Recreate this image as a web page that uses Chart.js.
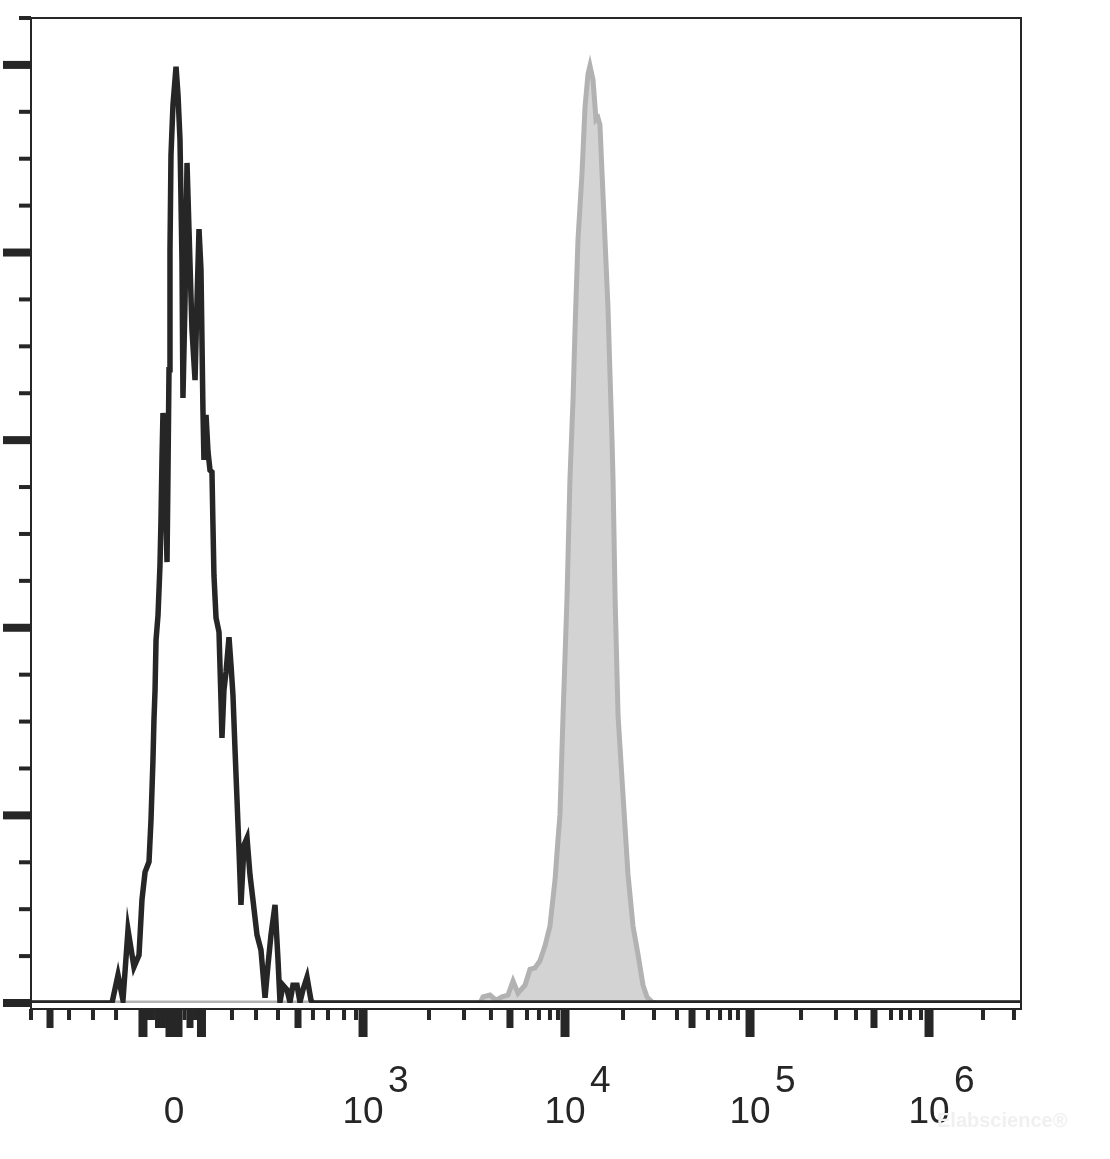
<!DOCTYPE html>
<html>
<head>
<meta charset="utf-8">
<script src="https://cdn.jsdelivr.net/npm/chart.js@4/dist/chart.umd.min.js"></script>
<style>
html,body{margin:0;padding:0;background:#fff;}
#wrap{width:1110px;height:1159px;}
</style>
</head>
<body>
<div id="wrap"><canvas id="histo" width="1110" height="1159"></canvas></div>
<script>
// channel (0-1000 across the plot) and events per channel
const controlChannel = [0, 81.8, 87.9, 92.9, 98.0, 104.0, 109.1, 112.1, 115.2, 119.2,
  121.2, 123.2, 124.2, 125.3, 126.3, 128.3, 130.3, 131.3, 132.3, 133.3,
  135.4, 137.4, 138.4, 139.4, 140.4, 141.4, 143.4, 146.5, 148.5, 150.5,
  152.5, 153.5, 155.6, 157.6, 159.6, 162.6, 165.7, 167.7, 169.7, 171.7,
  173.7, 174.7, 176.8, 178.8, 180.8, 182.8, 183.8, 184.8, 186.9, 189.9, 191.9, 192.9,
  194.9, 197.0, 200.0, 202.0, 204.0, 206.1, 208.1, 210.1, 212.1, 215.2,
  218.2, 221.2, 224.2, 228.3, 232.3, 236.4, 239.4, 242.4, 246.5, 249.5,
  251.5, 254.5, 258.6, 261.6, 264.6, 268.7, 271.7, 274.7, 278.8, 282.8,
  284.8, 1000];
const controlCount = [0, 0, 6.0, 0.6, 15.6, 7.7, 10.2, 22.0, 27.9, 30.1,
  39.0, 51.8, 60.3, 66.7, 77.4, 82.7, 93.4, 103.0, 115.8, 125.8,
  111.5, 94.0, 113.6, 135.0, 160.5, 180.8, 191.4, 199.6, 193.6, 184.0,
  158.4, 129.0, 149.9, 179.1, 164.8, 143.5, 132.8, 149.9, 165.0, 156.3,
  126.4, 115.8, 125.4, 117.5, 113.6, 113.2, 101.9, 91.2, 82.1, 79.1, 64.6, 56.5,
  66.7, 70.6, 78.0, 72.1, 65.7, 53.9, 43.3, 32.6, 20.9, 33.7,
  35.2, 27.3, 22.0, 14.5, 11.3, 1.1, 8.1, 14.5, 20.9, 9.2,
  0.2, 3.8, 2.8, 0.2, 3.8, 3.8, 0.2, 2.8, 5.5, 0.6,
  0, 0];

const stainedChannel = [0, 453.5, 456.6, 463.6, 469.7, 475.8, 481.8, 486.9, 491.9, 499.0,
  504.0, 509.1, 514.1, 519.2, 524.2, 529.3, 532.3, 534.3, 537.4, 541.4,
  544.4, 547.5, 549.5, 552.5, 556.6, 559.6, 562.6, 564.6, 567.7, 570.7,
  572.7, 574.7, 576.8, 579.8, 582.8, 584.8, 586.9, 587.9, 590.0, 593.0,
  598.0, 603.0, 608.1, 613.1, 618.2, 622.2, 627.3, 631.3, 1000];
const stainedCount = [0, 0, 1.3, 1.7, 0.6, 1.3, 1.7, 4.7, 2.1, 3.8,
  7.2, 7.5, 9.0, 12.2, 16.4, 26.2, 34.8, 40.1, 61.2, 86.3,
  111.7, 128.6, 143.5, 162.7, 177.0, 191.0, 198.0, 199.8, 196.8, 188.3,
  188.7, 187.2, 177.0, 162.7, 148.4, 134.3, 120.0, 111.7, 86.3, 61.2,
  44.3, 27.5, 16.4, 10.4, 3.8, 1.3, 0.2, 0, 0];

// y axis (count): minor tick every 10, long tick every 40
const yMax = 210;
const yStep = 10;
const yMajor = 40;

// x axis ticks in channel units, kind 0 short / 1 mid / 2 long
const xTickChannel = [0, 19.2, 38.4, 62.6, 85.9,
  113.1, 119.2, 123.2, 128.8, 132.8, 140.4, 148.5, 155.1, 160.6, 165.7, 172.2,
  203.0, 227.3, 249.5, 269.7, 284.8, 300.0, 316.2, 328.3, 335.4,
  402.0, 437.4, 464.6, 483.8, 501.0, 513.1, 524.2, 532.3, 539.4,
  598.0, 629.3, 652.5, 667.7, 683.8, 696.0, 706.1, 714.1, 726.3,
  777.8, 813.1, 833.3, 851.5, 868.7, 878.8, 887.9, 899.0, 907.1,
  961.6, 992.9];
const xTickKind = [0, 1, 0, 0, 0,
  2, 0, 0, 1, 1, 2, 2, 0, 1, 0, 2,
  0, 0, 0, 1, 0, 0, 0, 0, 2,
  0, 0, 0, 1, 0, 0, 0, 0, 2,
  0, 0, 0, 1, 0, 0, 0, 0, 2,
  0, 0, 0, 1, 0, 0, 0, 0, 2,
  0, 0];
const xLabelChannel = [144.4, 335.4, 539.4, 726.3, 907.1];
const xLabelBase = ['0', '10', '10', '10', '10'];
const xLabelExp = ['', '3', '4', '5', '6'];

const ink = '#262626';

const flowAxes = {
  id: 'flowAxes',
  afterDraw(chart) {
    const { ctx, chartArea: a, scales: { x, y } } = chart;
    const axisY = a.bottom + 6;
    ctx.save();

    // frame
    ctx.strokeStyle = ink;
    ctx.lineWidth = 2;
    ctx.strokeRect(a.left, a.top, a.right - a.left, axisY - a.top);

    ctx.fillStyle = ink;
    // y ticks
    for (let v = 0; v <= yMax; v += yStep) {
      const py = y.getPixelForValue(v);
      if (v % yMajor === 0) ctx.fillRect(a.left - 28, py - 4, 28, 8);
      else ctx.fillRect(a.left - 12, py - 2, 12, 4);
    }

    // x ticks
    const tw = [4, 7, 9], tl = [11, 19, 28];
    xTickChannel.forEach((c, i) => {
      const px = x.getPixelForValue(c);
      const k = xTickKind[i];
      ctx.fillRect(px - tw[k] / 2, axisY, tw[k], tl[k]);
    });

    // tick labels
    ctx.font = '37px "Liberation Sans", Arial, sans-serif';
    ctx.textBaseline = 'alphabetic';
    xLabelChannel.forEach((c, i) => {
      const px = x.getPixelForValue(c);
      ctx.textAlign = 'center';
      ctx.fillText(xLabelBase[i], px, a.bottom + 120);
      if (xLabelExp[i]) {
        ctx.textAlign = 'left';
        ctx.fillText(xLabelExp[i], px + 25, a.bottom + 89);
      }
    });

    // watermark
    ctx.font = 'bold 20px "Liberation Sans", Arial, sans-serif';
    ctx.textAlign = 'left';
    ctx.fillStyle = '#f0f0f0';
    ctx.fillText('Elabscience\u00AE', a.right - 84, a.bottom + 124);

    ctx.restore();
  }
};

new Chart(document.getElementById('histo'), {
  type: 'line',
  data: {
    datasets: [
      {
        label: 'Control',
        data: controlChannel.map((c, i) => ({ x: c, y: controlCount[i] })),
        borderColor: ink,
        borderWidth: 5.5,
        pointRadius: 0,
        fill: false,
        tension: 0
      },
      {
        label: 'Stained',
        data: stainedChannel.map((c, i) => ({ x: c, y: stainedCount[i] })),
        borderColor: '#b2b2b2',
        backgroundColor: '#d3d3d3',
        borderWidth: 5,
        pointRadius: 0,
        fill: 'origin',
        tension: 0
      }
    ]
  },
  options: {
    responsive: false,
    animation: false,
    layout: { padding: { left: 31, top: 18, right: 89, bottom: 156 } },
    plugins: { legend: { display: false }, tooltip: { enabled: false } },
    scales: {
      x: { type: 'linear', min: 0, max: 1000, display: false },
      y: { min: 0, max: yMax, display: false }
    }
  },
  plugins: [flowAxes]
});
</script>
</body>
</html>
